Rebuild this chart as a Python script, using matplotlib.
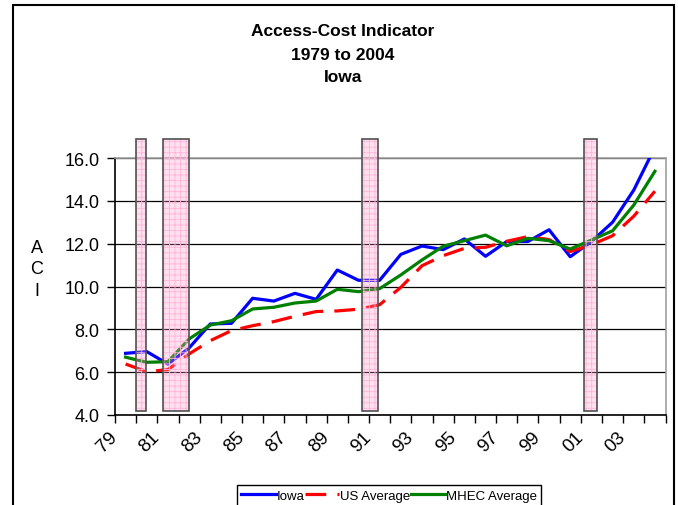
import matplotlib
matplotlib.use("Agg")
import matplotlib.pyplot as plt
from matplotlib.patches import Rectangle
from matplotlib.transforms import ScaledTranslation

plt.rcParams['font.family'] = ['Liberation Sans', 'DejaVu Sans']
plt.rcParams['hatch.linewidth'] = 0.6

years = ["79", "80", "81", "82", "83", "84", "85", "86", "87", "88", "89", "90", "91",
         "92", "93", "94", "95", "96", "97", "98", "99", "00", "01", "02", "03", "04"]
iowa = [6.88, 6.96, 6.38, 7.13, 8.25, 8.28, 9.45, 9.32, 9.68, 9.40, 10.77, 10.29, 10.29,
        11.50, 11.89, 11.72, 12.22, 11.41, 12.10, 12.10, 12.65, 11.39, 12.10, 13.00, 14.50, 16.50]
us_avg = [6.38, 6.02, 6.12, 6.85, 7.47, 7.94, 8.17, 8.36, 8.61, 8.83, 8.86, 8.94, 9.15,
          9.96, 10.97, 11.44, 11.78, 11.83, 12.11, 12.33, 12.19, 11.63, 11.95, 12.37, 13.28, 14.45]
mhec_avg = [6.70, 6.46, 6.49, 7.55, 8.20, 8.40, 8.95, 9.03, 9.23, 9.32, 9.87, 9.76, 9.90,
            10.54, 11.24, 11.88, 12.14, 12.40, 11.90, 12.25, 12.14, 11.75, 12.17, 12.60, 13.80, 15.38]
# recession bands (start, end) in category units
recessions = [(0.48, 0.95), (1.78, 3.0), (11.15, 11.94), (21.64, 22.25)]
band_low, band_high = 4.19, 16.89
yticks = [4.0, 6.0, 8.0, 10.0, 12.0, 14.0, 16.0]

fig = plt.figure(figsize=(6.78, 5.06), dpi=100)
W, H = 678, 506
ax = fig.add_axes([115 / W, 1 - 416 / H, 550.5 / W, 257 / H])

x = list(range(len(years)))
ax.plot(x, iowa, color='#0000ff', lw=2.3, label='Iowa', zorder=3)
ax.plot(x, us_avg, color='#ff0000', lw=2.3, ls=(0, (6.5, 3.5)), label='US Average', zorder=3)
ax.plot(x, mhec_avg, color='#008000', lw=2.3, label='MHEC Average', zorder=3)

for (a, b) in recessions:
    r1 = Rectangle((a, band_low), b - a, band_high - band_low, facecolor=(1, 0.6, 0.8, 0.3),
                   edgecolor='#ffb3d9', hatch='+++', lw=0, clip_on=False, zorder=4)
    r2 = Rectangle((a, band_low), b - a, band_high - band_low, fill=False,
                   edgecolor='#505050', lw=1.2, clip_on=False, zorder=5)
    ax.add_patch(r1)
    ax.add_patch(r2)

ax.set_xlim(-0.5, len(years) - 0.5)
ax.set_ylim(4, 16)
ax.set_yticks(yticks)
ax.set_yticklabels([f"{v:.1f}" for v in yticks], fontsize=13)
ax.yaxis.grid(True, color='black', lw=0.9)
ax.set_axisbelow(True)

ax.set_xticks(x[::2])
ax.set_xticklabels(years[::2], fontsize=13.5, rotation=45, rotation_mode='anchor',
                   ha='right', va='center')
ax.set_xticks([i - 0.5 for i in range(len(years) + 1)], minor=True)
ax.tick_params(axis='x', which='major', length=0, pad=14)
ax.tick_params(axis='x', which='minor', length=6, width=1, direction='out')
ax.tick_params(axis='y', length=6, width=1, direction='out', pad=5)
for lab in ax.get_xticklabels():
    lab.set_transform(lab.get_transform() + ScaledTranslation(-11 / 100, 0, fig.dpi_scale_trans))

for s in ['top', 'right']:
    ax.spines[s].set_color('#a0a0a0')
    ax.spines[s].set_linewidth(1.2)
for s in ['left', 'bottom']:
    ax.spines[s].set_color('black')
    ax.spines[s].set_linewidth(1.2)

fig.text(343 / W, 1 - 32 / H, "Access-Cost Indicator", ha='center', va='center',
         fontsize=12.5, fontweight='bold')
fig.text(343 / W, 1 - 55 / H, "1979 to 2004", ha='center', va='center',
         fontsize=12.5, fontweight='bold')
fig.text(343 / W, 1 - 77 / H, "Iowa", ha='center', va='center',
         fontsize=12.5, fontweight='bold')

fig.text(37 / W, 1 - 270 / H, "A\nC\nI", ha='center', va='center', fontsize=13,
         linespacing=1.36)

# outer chart border
fig.add_artist(Rectangle((12.5 / W, -0.1), (674 - 12.5) / W, 1.1 - 6 / H, fill=False,
                         edgecolor='black', lw=1.5, transform=fig.transFigure))

leg = fig.legend(handles=ax.get_lines(), loc='upper center', bbox_to_anchor=(389 / W, 1 - 486 / H),
                 ncol=3, frameon=True, fancybox=False, edgecolor='black', framealpha=1,
                 prop={'size': 9.5},
                 handlelength=2.6, handletextpad=0.05, columnspacing=0.05, borderpad=0.35,
                 borderaxespad=0)
leg.get_frame().set_linewidth(1.0)

fig.savefig("out.png", dpi=100)
